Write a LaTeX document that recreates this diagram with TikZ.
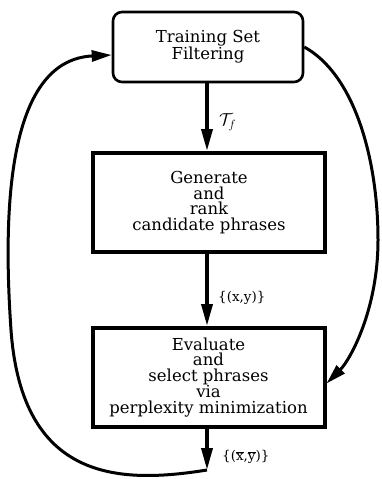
\documentclass[tikz,border=0pt]{standalone}
\usepackage{fontspec}
\setmainfont{DejaVu Serif}
\usetikzlibrary{arrows.meta}
\begin{document}
\begin{tikzpicture}[x=1pt,y=-1pt,
  boxtext/.style={align=center,font=\fontsize{16.5}{15.5}\selectfont,inner sep=0pt},
  topbox/.style={boxtext,draw,line width=2.6pt,rounded corners=9pt,minimum width=190pt,minimum height=70pt},
  mainbox/.style={boxtext,draw,line width=4pt,minimum width=232pt,minimum height=99pt},
  flow/.style={line width=3.6pt,-{Triangle[length=22pt,width=11pt]}},
  loop/.style={line width=3pt,-{Triangle[length=20pt,width=11pt]}},
  lab/.style={anchor=west,font=\fontsize{13.5}{14}\selectfont,inner sep=0pt}]
\useasboundingbox (0,0) rectangle (382,479);
\node[topbox] (tf) at (208,47) {Training Set\\Filtering};
\node[mainbox] (gen) at (209,202.5) {Generate\\and\\rank\\candidate phrases};
\node[mainbox] (eval) at (208.5,377.5) {Evaluate\\and\\select phrases\\via\\perplexity minimization};
\coordinate (fb) at (207,470);
\draw[flow] (tf.south -| 207,0) -- (gen.north -| 207,0);
\draw[flow] (gen.south -| 207,0) -- (eval.north -| 207,0);
\draw[flow] (eval.south -| 207,0) -- (fb);
\node[lab,font=\fontsize{18}{18}\selectfont] (t1) at (219,122) {$\mathcal{T}_{f}$};
\node[lab] (t2) at (218,298) {\{(x,y)\}};
\node[lab] (t3) at (222,457) {\{(\(\overline{\mbox{x}}\),\(\overline{\mbox{y}}\))\}};
\draw[loop] (fb) .. controls (120,484) and (22,482) .. (11,330)
  .. controls (2,200) and (10,60) .. ([yshift=-8pt]tf.west);
\draw[loop] ([yshift=0pt]tf.east) .. controls (355,75) and (378,160) .. (378,240)
  .. controls (378,310) and (350,360) .. ([yshift=-6pt]eval.east);
\end{tikzpicture}
\end{document}
